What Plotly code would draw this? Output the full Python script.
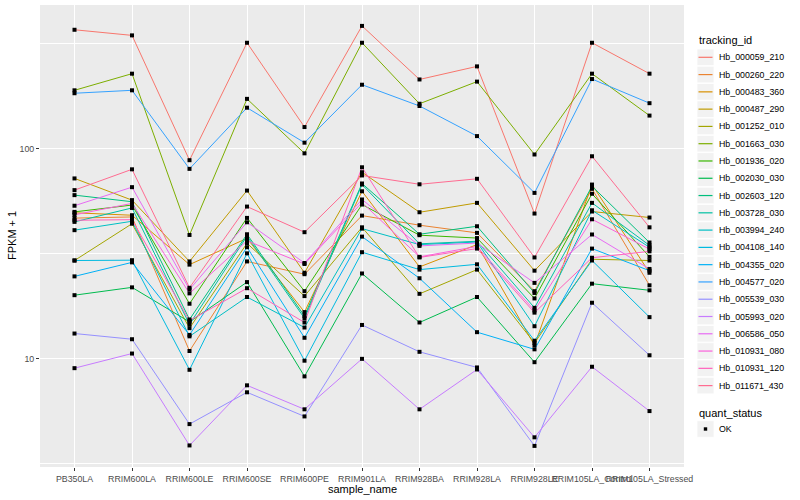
import plotly.graph_objects as go

samples = ["PB350LA", "RRIM600LA", "RRIM600LE", "RRIM600SE", "RRIM600PE", "RRIM901LA",
           "RRIM928BA", "RRIM928LA", "RRIM928LE", "RRIM105LA_Control", "RRIM105LA_Stressed"]

tracking_ids = ["Hb_000059_210", "Hb_000260_220", "Hb_000483_360", "Hb_000487_290", "Hb_001252_010",
                "Hb_001663_030", "Hb_001936_020", "Hb_002030_030", "Hb_002603_120", "Hb_003728_030",
                "Hb_003994_240", "Hb_004108_140", "Hb_004355_020", "Hb_004577_020", "Hb_005539_030",
                "Hb_005993_020", "Hb_006586_050", "Hb_010931_080", "Hb_010931_120", "Hb_011671_430"]

colors = ["#F8766D", "#EA8331", "#D89000", "#C09B00", "#A3A500", "#7CAE00", "#39B600", "#00BB4E",
          "#00BF7D", "#00C1A3", "#00BFC4", "#00BAE0", "#00B0F6", "#35A2FF", "#9590FF", "#C77CFF",
          "#E76BF3", "#FA62DB", "#FF62BC", "#FF6C91"]

# FPKM + 1 per sample (order of `samples`)
hb_000059_210 = [369, 347, 88.3, 320, 127, 385, 214, 247, 49.2, 320, 228]
hb_000260_220 = [46.8, 47.4, 10.9, 29.1, 25.3, 48.1, 43.3, 39.8, 21.0, 64.5, 22.4]
hb_000483_360 = [49.6, 48.3, 28.1, 37.5, 16.7, 62.8, 27.4, 35.0, 11.6, 67.6, 25.7]
hb_000487_290 = [72.3, 57.0, 29.1, 63.3, 25.7, 77.4, 49.9, 55.3, 26.3, 50.3, 47.1]
hb_001252_010 = [29.4, 44.0, 14.0, 35.5, 19.9, 42.3, 20.4, 26.6, 11.9, 29.8, 29.4]
hb_001663_030 = [190, 228, 38.9, 173, 95.2, 320, 164, 209, 94, 228, 144]
hb_001936_020 = [50.1, 54.0, 18.3, 46.9, 21.0, 54.3, 38.8, 37.6, 19.4, 61.1, 30.6]
hb_002030_030 = [20.1, 21.9, 15.0, 23.2, 8.25, 25.5, 14.9, 19.7, 9.64, 22.8, 21.2]
hb_002603_120 = [60.2, 56.0, 15.4, 39.2, 16.0, 68.4, 39.2, 42.8, 20.6, 66.4, 35.8]
hb_003728_030 = [44.9, 52.3, 14.6, 38.4, 15.6, 67.6, 35.3, 36.3, 17.5, 55.3, 34.7]
hb_003994_240 = [41.0, 45.2, 12.8, 19.7, 14.1, 41.7, 35.0, 36.0, 14.3, 51.0, 34.0]
hb_004108_140 = [29.4, 29.5, 8.87, 31.8, 9.8, 32.2, 26.6, 28.2, 12.2, 29.4, 15.8]
hb_004355_020 = [24.7, 28.8, 13.0, 34.0, 12.6, 38.2, 24.2, 13.4, 11.1, 33.5, 26.3]
hb_004577_020 = [184, 190, 80.3, 157, 107, 202, 160, 115, 61.7, 215, 165]
hb_005539_030 = [13.2, 12.4, 4.89, 6.93, 5.32, 14.5, 10.8, 9.1, 3.85, 18.5, 10.4]
hb_005993_020 = [9.03, 10.6, 3.87, 7.48, 5.75, 10.0, 5.75, 8.9, 4.23, 9.17, 5.64]
hb_006586_050 = [53.6, 65.7, 21.4, 44.7, 28.6, 57.4, 34.5, 35.6, 23.0, 39.1, 26.8]
hb_010931_080 = [48.5, 55.0, 20.5, 36.5, 28.3, 55.5, 30.6, 34.3, 17.0, 46.2, 33.3]
hb_010931_120 = [45.7, 46.0, 15.2, 21.7, 14.9, 81.7, 30.4, 33.5, 16.6, 30.3, 32.5]
hb_011671_430 = [63.6, 79.9, 21.8, 53.1, 40.1, 74.7, 67.8, 72.0, 30.4, 92.2, 42.3]

series = [hb_000059_210, hb_000260_220, hb_000483_360, hb_000487_290, hb_001252_010,
          hb_001663_030, hb_001936_020, hb_002030_030, hb_002603_120, hb_003728_030,
          hb_003994_240, hb_004108_140, hb_004355_020, hb_004577_020, hb_005539_030,
          hb_005993_020, hb_006586_050, hb_010931_080, hb_010931_120, hb_011671_430]

quant_status = ["OK"]

FONT = "Liberation Sans, Arial, sans-serif"

fig = go.Figure()
for name, vals, col in zip(tracking_ids, series, colors):
    fig.add_trace(go.Scatter(x=samples, y=vals, mode="lines", name=name,
                             line=dict(color=col, width=1), showlegend=False))

px_, py_ = [], []
for vals in series:
    px_ += samples
    py_ += vals
fig.add_trace(go.Scatter(x=px_, y=py_, mode="markers", name=quant_status[0],
                         marker=dict(symbol="square", size=4, color="black"), showlegend=False))

# geometry helpers for legend placement (pixels -> paper)
L, R, T, B = 40, 684, 5, 467
def xp(p):
    return (p - L) / (R - L)
def yp(p):
    return (B - p) / (B - T)

shapes = []
annotations = []
annotations.append(dict(x=xp(697), y=yp(40), xref="paper", yref="paper", text="tracking_id",
                        showarrow=False, xanchor="left", yanchor="middle",
                        font=dict(family=FONT, size=11, color="black")))
for i, (name, col) in enumerate(zip(tracking_ids, colors)):
    cy = 57.3 + i * 17.28
    shapes.append(dict(type="rect", xref="paper", yref="paper", x0=xp(697), x1=xp(714),
                       y0=yp(cy - 8.3), y1=yp(cy + 8.3), fillcolor="#F2F2F2",
                       line=dict(width=0.8, color="white"), layer="above"))
    shapes.append(dict(type="line", xref="paper", yref="paper", x0=xp(698.5), x1=xp(712.5),
                       y0=yp(cy), y1=yp(cy), line=dict(color=col, width=1.2), layer="above"))
    annotations.append(dict(x=xp(716.5), y=yp(cy), xref="paper", yref="paper", text=name,
                            showarrow=False, xanchor="left", yanchor="middle",
                            font=dict(family=FONT, size=8.8, color="black")))

annotations.append(dict(x=xp(697), y=yp(412.5), xref="paper", yref="paper", text="quant_status",
                        showarrow=False, xanchor="left", yanchor="middle",
                        font=dict(family=FONT, size=11, color="black")))
shapes.append(dict(type="rect", xref="paper", yref="paper", x0=xp(697), x1=xp(714),
                   y0=yp(420.7), y1=yp(437.3), fillcolor="#F2F2F2",
                   line=dict(width=0.8, color="white"), layer="above"))
shapes.append(dict(type="rect", xref="paper", yref="paper", x0=xp(703.8), x1=xp(707.2),
                   y0=yp(427.3), y1=yp(430.7), fillcolor="black",
                   line=dict(width=0), layer="above"))
annotations.append(dict(x=xp(716.5), y=yp(429), xref="paper", yref="paper", text=quant_status[0],
                        showarrow=False, xanchor="left", yanchor="middle",
                        font=dict(family=FONT, size=8.8, color="black")))

# axis titles
annotations.append(dict(x=0.5, y=yp(489), xref="paper", yref="paper", text="sample_name",
                        showarrow=False, xanchor="center", yanchor="middle",
                        font=dict(family=FONT, size=11, color="black")))
annotations.append(dict(x=xp(12), y=0.5, xref="paper", yref="paper", text="FPKM + 1",
                        showarrow=False, xanchor="center", yanchor="middle", textangle=-90,
                        font=dict(family=FONT, size=11, color="black")))

fig.update_layout(
    width=800, height=500,
    margin=dict(l=L, r=800 - R, t=T, b=500 - B, pad=0),
    paper_bgcolor="white", plot_bgcolor="#EBEBEB",
    font=dict(family=FONT),
    showlegend=False,
    shapes=shapes, annotations=annotations,
    xaxis=dict(type="category", categoryorder="array", categoryarray=samples,
               range=[-0.6, 10.6], showgrid=True, gridcolor="white", gridwidth=1.1,
               ticks="outside", ticklen=3, tickwidth=1, tickcolor="#333333",
               tickfont=dict(family=FONT, size=8.8, color="#4D4D4D"),
               zeroline=False, showline=False, tickangle=0),
    yaxis=dict(type="log", range=[0.485, 2.685], tickvals=[10, 100], ticktext=["10", "100"],
               showgrid=True, gridcolor="white", gridwidth=1.1,
               ticks="outside", ticklen=3, tickwidth=1, tickcolor="#333333",
               tickfont=dict(family=FONT, size=8.8, color="#4D4D4D"),
               zeroline=False, showline=False,
               minor=dict(tickvals=[10 ** 0.5, 10 ** 1.5, 10 ** 2.5], showgrid=True,
                          gridcolor="white", gridwidth=0.55, ticks="")),
)

fig.write_html("out.html", config={"displayModeBar": False},
               post_script="document.body.style.margin='0';document.body.style.padding='0';")
